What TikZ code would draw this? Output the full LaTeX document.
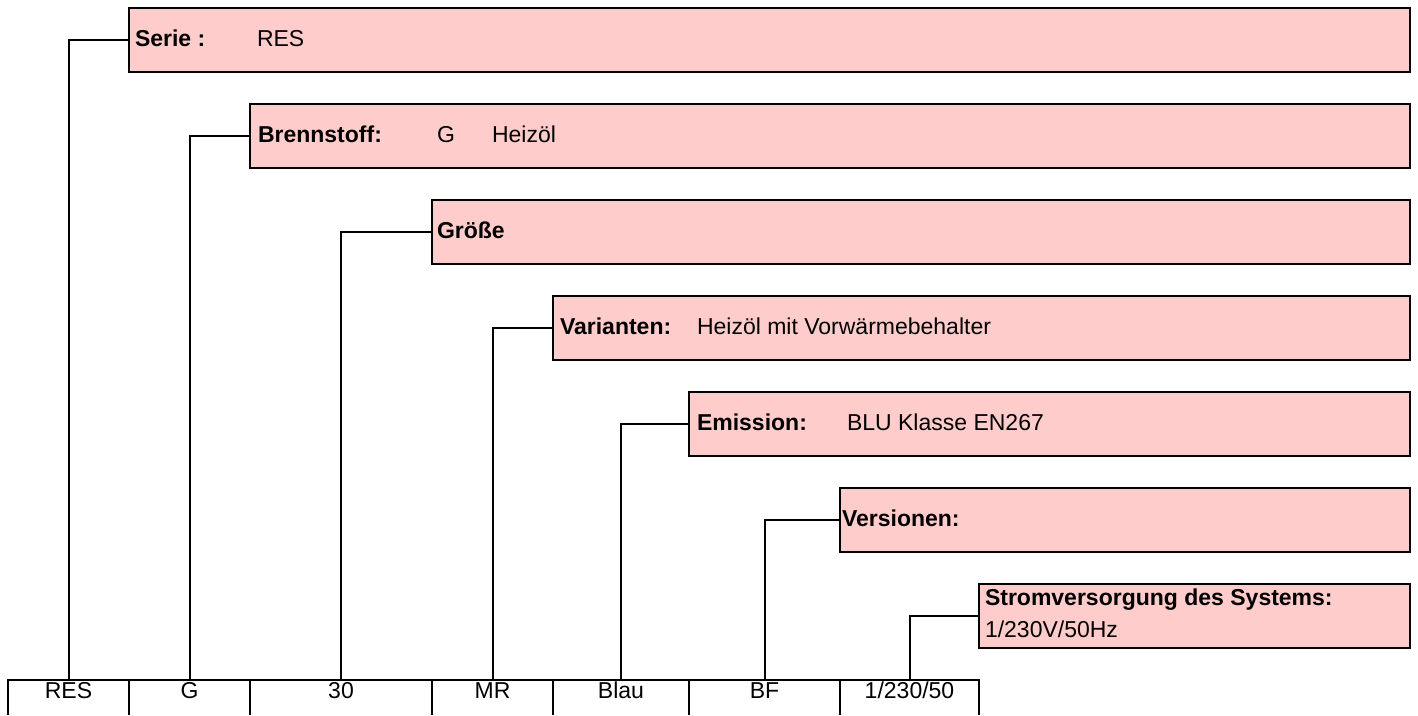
\documentclass[tikz,border=0pt]{standalone}
\usepackage{fontspec}
\setmainfont{Liberation Sans}
\usetikzlibrary{shadows,calc}
\definecolor{boxpink}{RGB}{255,204,204}
\begin{document}
\begin{tikzpicture}[x=1pt,y=-1pt,
  every node/.style={font=\fontsize{23pt}{28pt}\selectfont, inner sep=0pt, outer sep=0pt},
  infobox/.style={draw=black, line width=2pt, fill=boxpink, anchor=north west,
    minimum height=64pt,
    drop shadow={shadow xshift=1pt, shadow yshift=-1pt, fill=black, opacity=1}},
  cell/.style={anchor=north west, minimum height=35pt},
  conn/.style={draw=black, line width=2pt},
  grid/.style={draw=black, line width=2pt},
  txt/.style={anchor=base west},
  celltxt/.style={anchor=base}]
\useasboundingbox (0,0) rectangle (1418,715);
% info boxes
\node[infobox, minimum width=1281pt] (b1) at (129,8) {};
\node[infobox, minimum width=1160pt] (b2) at (250,104) {};
\node[infobox, minimum width=978pt]  (b3) at (432,200) {};
\node[infobox, minimum width=857pt]  (b4) at (553,296) {};
\node[infobox, minimum width=721pt]  (b5) at (689,392) {};
\node[infobox, minimum width=570pt]  (b6) at (840,488) {};
\node[infobox, minimum width=431pt]  (b7) at (979,584) {};
% box texts
\node[txt] (t1a) at (135,46) {\bfseries Serie :};
\node[txt] (t1b) at (257,46) {RES};
\node[txt] (t2a) at (258,142) {\bfseries Brennstoff:};
\node[txt] (t2b) at (437,142) {G};
\node[txt] (t2c) at (492,142) {Heizöl};
\node[txt] (t3a) at (437,238) {\bfseries Größe};
\node[txt] (t4a) at (560,334) {\bfseries Varianten:};
\node[txt] (t4b) at (697,334) {Heizöl mit Vorwärmebehalter};
\node[txt] (t5a) at (697,430) {\bfseries Emission:};
\node[txt] (t5b) at (847,430) {BLU Klasse EN267};
\node[txt] (t6a) at (842,526) {\bfseries Versionen:};
\node[txt] (t7a) at (985,605) {\bfseries Stromversorgung des Systems:};
\node[txt] (t7b) at (985,637) {1/230V/50Hz};
% bottom cells
\node[cell, minimum width=121pt] (c1) at (8,680) {};
\node[cell, minimum width=121pt] (c2) at (129,680) {};
\node[cell, minimum width=182pt] (c3) at (250,680) {};
\node[cell, minimum width=121pt] (c4) at (432,680) {};
\node[cell, minimum width=136pt] (c5) at (553,680) {};
\node[cell, minimum width=151pt] (c6) at (689,680) {};
\node[cell, minimum width=139pt] (c7) at (840,680) {};
\node[celltxt] (s1) at ($(c1.north)+(0,18)$) {RES};
\node[celltxt] (s2) at ($(c2.north)+(0,18)$) {G};
\node[celltxt] (s3) at ($(c3.north)+(0,18)$) {30};
\node[celltxt] (s4) at ($(c4.north)+(0,18)$) {MR};
\node[celltxt] (s5) at ($(c5.north)+(0,18)$) {Blau};
\node[celltxt] (s6) at ($(c6.north)+(0,18)$) {BF};
\node[celltxt] (s7) at ($(c7.north)+(0,18)$) {1/230/50};
\draw[grid] (c1.south west) -- (c1.north west) -- (c7.north east) -- (c7.south east);
\foreach \c in {c1,c2,c3,c4,c5,c6}{
  \draw[grid] (\c.north east) -- (\c.south east);
}
% connectors
\draw[conn] (c1.north) |- (b1.west);
\draw[conn] (c2.north) |- (b2.west);
\draw[conn] (c3.north) |- (b3.west);
\draw[conn] (c4.north) |- (b4.west);
\draw[conn] (c5.north) |- (b5.west);
\draw[conn] (c6.north) |- (b6.west);
\draw[conn] (c7.north) |- (b7.west);
\end{tikzpicture}
\end{document}
